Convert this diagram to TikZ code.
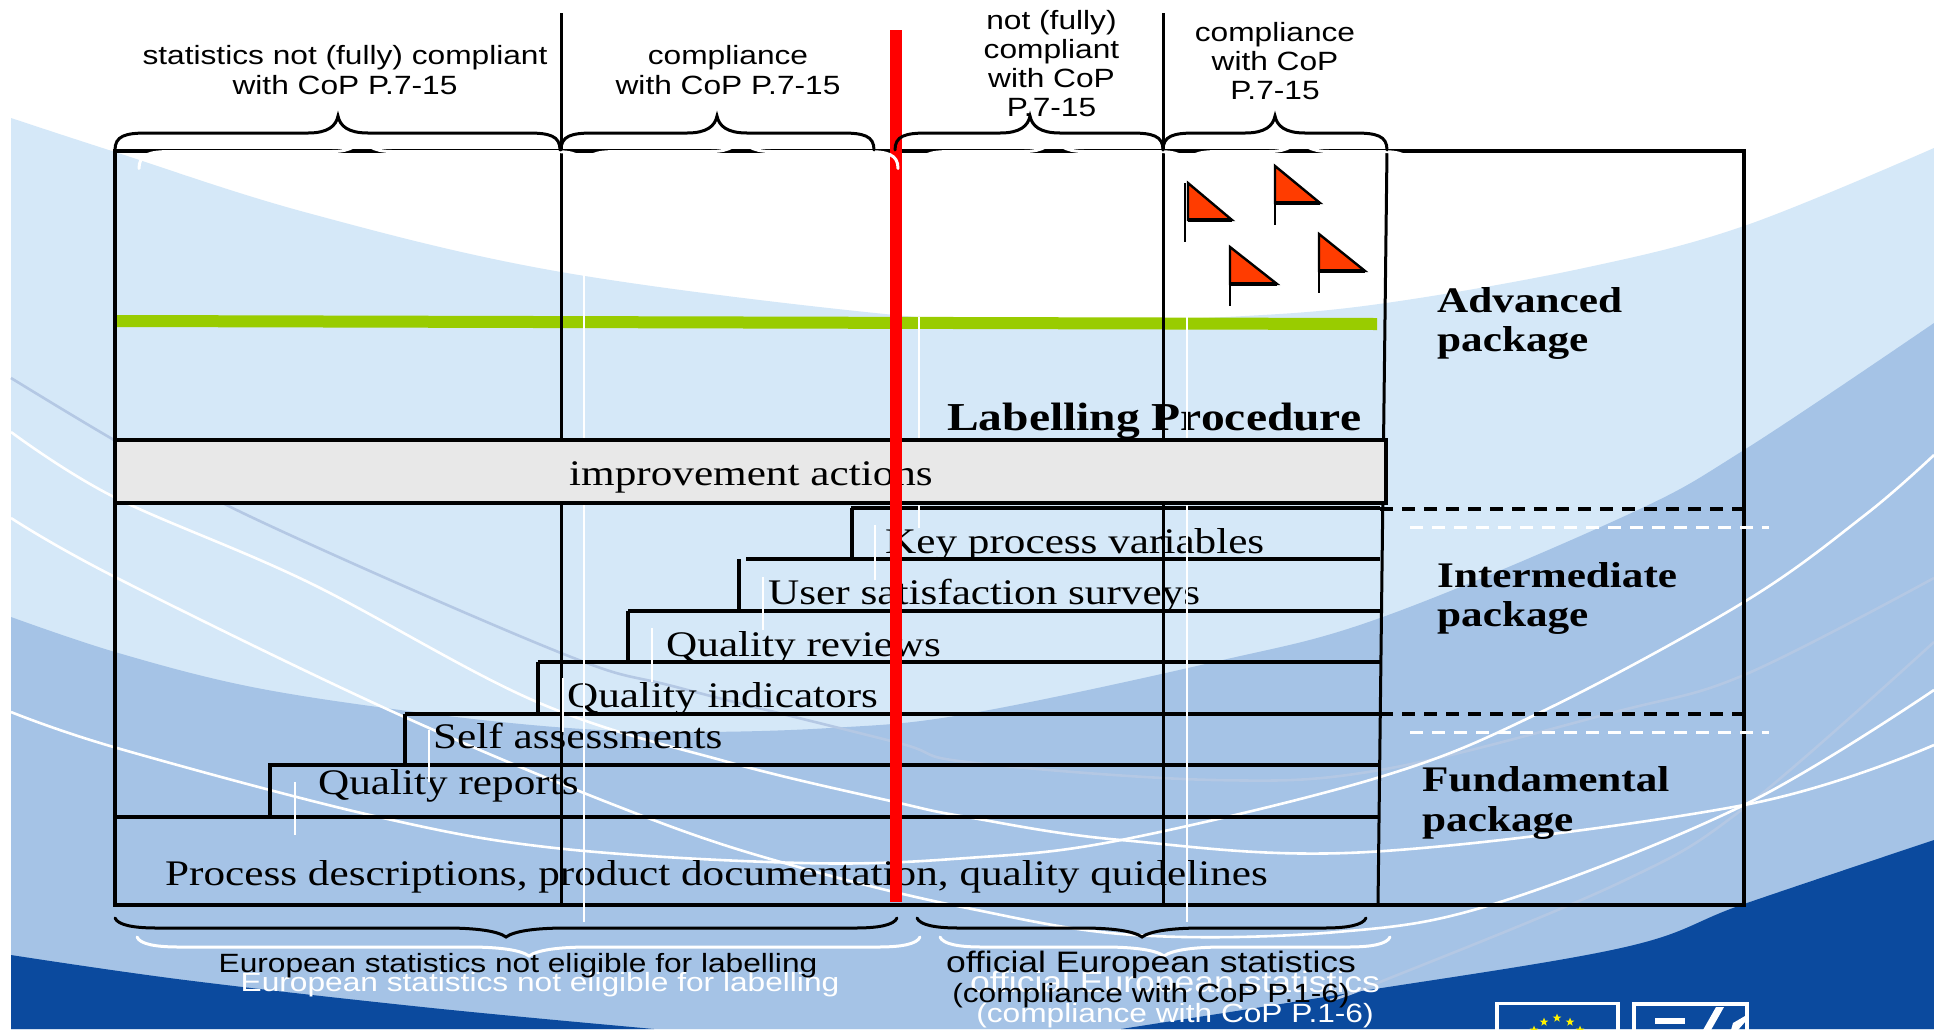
\documentclass[tikz,border=0pt]{standalone}
\usepackage{fontspec}
\usetikzlibrary{shapes.geometric}
\newfontfamily\labsans[FakeStretch=1.2]{Liberation Sans}
\newfontfamily\labserif[FakeStretch=1.2]{Liberation Serif}
\definecolor{bglight}{HTML}{D5E8F8}
\definecolor{bgmid}{HTML}{A5C3E6}
\definecolor{bgdark}{HTML}{0B4A9E}
\definecolor{faintline}{HTML}{B4C8E4}
\definecolor{barfill}{HTML}{E8E8E8}
\definecolor{greenbar}{HTML}{99CC00}
\definecolor{flagred}{HTML}{FF3C00}
\tikzset{
  sanslab/.style={anchor=base,inner sep=0pt,font=\labsans\fontsize{26.4}{29}\selectfont},
  sansbig/.style={anchor=base,inner sep=0pt,font=\labsans\fontsize{29.6}{32}\selectfont},
  seriflab/.style={anchor=base west,inner sep=0pt,font=\labserif\fontsize{36}{39}\selectfont},
  boldlab/.style={anchor=base west,inner sep=0pt,font=\labserif\bfseries\fontsize{36}{39}\selectfont},
  boldbig/.style={anchor=base west,inner sep=0pt,font=\labserif\bfseries\fontsize{39.6}{43}\selectfont},
  frameline/.style={draw=black,line width=4pt},
  thinv/.style={draw=black,line width=3pt},
  stair/.style={draw=black,line width=3.5pt},
  dashline/.style={draw=black,line width=3.5pt,dash pattern=on 13pt off 9pt},
  ghostdash/.style={draw=white,line width=3pt,dash pattern=on 13pt off 9pt},
  ghostv/.style={draw=white,line width=2.5pt},
  swoosh/.style={draw=white,line width=2.6pt},
  faint/.style={draw=faintline,line width=2.6pt},
  brace/.style={line width=3pt,line cap=round},
  flagshape/.style={draw=black,line width=2.4pt,fill=flagred,line join=miter},
  eustar/.style={star,star points=5,star point ratio=2.4,fill=yellow,inner sep=0pt,minimum size=9pt}
}
% top brace: x1,x2,tip,base y,colour
\newcommand{\topbr}[5]{%
  \draw[brace,#5] (#1,#4) .. controls (#1,#4-14) and (#1+10,#4-17) .. (#1+32,#4-17)
    -- (#3-30,#4-17) .. controls (#3-10,#4-17) and (#3-2,#4-24) .. (#3,#4-34)
    .. controls (#3+2,#4-24) and (#3+10,#4-17) .. (#3+30,#4-17)
    -- (#2-32,#4-17) .. controls (#2-10,#4-17) and (#2,#4-14) .. (#2,#4);}
% bottom brace
\newcommand{\botbr}[5]{%
  \draw[brace,#5] (#1,#4) .. controls (#1+3,#4+7) and (#1+18,#4+10) .. (#1+42,#4+10)
    -- (#3-60,#4+10) .. controls (#3-30,#4+10) and (#3-8,#4+13) .. (#3,#4+19)
    .. controls (#3+8,#4+13) and (#3+30,#4+10) .. (#3+60,#4+10)
    -- (#2-42,#4+10) .. controls (#2-18,#4+10) and (#2-3,#4+7) .. (#2,#4);}
\newcommand{\flagat}[4]{% triangle x, top y, tip x, pole x
  \draw[flagshape] (#1,#2) -- (#3,#2+37) -- (#1,#2+37) -- cycle;
  \draw[black,line width=3.6pt] (#1,#2+37) -- (#3,#2+37);
  \draw[black,line width=2.4pt] (#4,#2) -- (#4,#2+59);}
\begin{document}
\begin{tikzpicture}[x=1pt,y=-1pt]
\useasboundingbox (0,0) rectangle (1934,1029);
\fill[white] (0,0) rectangle (1934,1029);
% background swooshes
\fill[bglight] plot[smooth,tension=0.6] coordinates {(11,118) (115,152) (308,213) (561,272) (895,315) (1060,321) (1245,316) (1386,303) (1584,268) (1744,226) (1934,148)} -- (1934,1029) -- (11,1029) -- cycle;
\fill[bgmid] plot[smooth,tension=0.6] coordinates {(11,617) (115,652) (247,686) (400,710) (555,727) (680,732) (830,728) (967,714) (1214,662) (1380,618) (1627,515) (1744,450) (1934,323)} -- (1934,1029) -- (11,1029) -- cycle;
\fill[bgdark] plot[smooth,tension=0.6] coordinates {(11,955) (185,980) (432,1008) (654,1029)} -- (11,1029) -- cycle;
\fill[bgdark] plot[smooth,tension=0.6] coordinates {(1121,1029) (1337,995) (1621,948) (1744,904) (1934,840)} -- (1934,1029) -- cycle;
% thin curves
\draw[faint] plot[smooth,tension=0.6] coordinates {(11,378) (114,440) (247,515) (561,653) (680,688) (895,742) (967,762) (1214,780) (1380,770) (1615,712) (1744,675) (1934,578)};
\draw[faint] plot[smooth,tension=0.6] coordinates {(1330,1000) (1380,982) (1621,882) (1744,808) (1934,642)};
\draw[swoosh] plot[smooth,tension=0.6] coordinates {(11,432) (114,497) (308,582) (537,702) (728,762) (895,802) (967,817) (1121,840) (1368,852) (1744,805) (1934,745)};
\draw[swoosh] plot[smooth,tension=0.6] coordinates {(11,518) (117,578) (400,715) (648,818) (802,868) (967,908) (1134,935) (1337,932) (1497,903) (1744,805) (1934,690)};
\draw[swoosh] plot[smooth,tension=0.6] coordinates {(11,712) (117,748) (370,815) (555,848) (802,863) (967,858) (1121,840) (1380,777) (1541,712) (1744,602) (1865,515) (1934,455)};
% green bar
\fill[greenbar] (117,315) -- (1377,318) -- (1377,330) -- (117,327) -- cycle;
% frame
\draw[frameline] (115,150.5) rectangle (1744,905);
\draw[thinv] (561,13) -- (561,905);
\draw[thinv] (1163,13) -- (1163,905);
\draw[thinv] (1387,150) -- (1378,905);
% stairs
\draw[stair] (851,508) -- (1380,508);
\draw[stair] (852,508) -- (852,559);
\draw[stair] (746,559) -- (1380,559);
\draw[stair] (739,559) -- (739,611);
\draw[stair] (628,611) -- (1380,611);
\draw[stair] (628,611) -- (628,662);
\draw[stair] (538,662) -- (1380,662);
\draw[stair] (538,662) -- (538,714);
\draw[stair] (405,714) -- (1380,714);
\draw[stair] (405,714) -- (405,765);
\draw[stair] (268,765) -- (1380,765);
\draw[stair] (270,765) -- (270,817);
\draw[stair] (115,817) -- (1379,817);
\draw[dashline] (1380,509) -- (1744,509);
\draw[dashline] (1380,714) -- (1744,714);
% flags
\flagat{1188}{183}{1232}{1185}
\flagat{1275}{166}{1320}{1275}
\flagat{1230}{247}{1277}{1230}
\flagat{1319}{234}{1365}{1319}
% stair texts
\node[seriflab] (t1) at (165,885.5) {Process descriptions, product documentation, quality quidelines};
\node[seriflab] (t2) at (318,794.5) {Quality reports};
\node[seriflab] (t3) at (433,748.5) {Self assessments};
\node[seriflab] (t4) at (567,707.5) {Quality indicators};
\node[seriflab] (t5) at (666,656.5) {Quality reviews};
\node[seriflab] (t6) at (768,604.5) {User satisfaction surveys};
\node[seriflab] (t7) at (885,553.5) {Key process variables};
\node[boldbig] (l0) at (947,430.5) {Labelling Procedure};
\node[boldlab] (l1) at (1437,312.5) {Advanced};
\node[boldlab] (l2) at (1437,351.5) {package};
\node[boldlab] (l3) at (1437,587.5) {Intermediate};
\node[boldlab] (l4) at (1437,626.5) {package};
\node[boldlab] (l5) at (1422,791.5) {Fundamental};
\node[boldlab] (l6) at (1422,831.5) {package};
% white ghost verticals
\draw[ghostv] (584,275) -- (584,922);
\draw[ghostv] (1187,317) -- (1187,922);
\draw[ghostv] (919,317) -- (919,528);
\draw[ghostv] (875,525) -- (875,580);
\draw[ghostv] (763,577) -- (763,630);
\draw[ghostv] (652,628) -- (652,682);
\draw[ghostv] (563,678) -- (563,732);
\draw[ghostv] (429,730) -- (429,782);
\draw[ghostv] (295,782) -- (295,835);
\draw[ghostdash] (1410,527) -- (1769,527);
\draw[ghostdash] (1410,732) -- (1769,732);
% improvement bar
\node[draw=black,line width=3.5pt,fill=barfill,minimum width=1271pt,minimum height=63pt,inner sep=0pt,outer sep=0pt,anchor=north west] (bar) at (115,440) {};
\node[seriflab] (t8) at (569,485.5) {improvement actions};
% red line
\fill[red] (890,30) rectangle (902,902);
% ghost braces
\topbr{139}{584}{362}{168.5}{white}
\topbr{585}{898}{741}{168.5}{white}
\topbr{919}{1187}{1054}{168.5}{white}
\topbr{1187}{1411}{1299}{168.5}{white}
\botbr{137}{920}{529}{937}{white}
\botbr{940}{1390}{1164}{937}{white}
% black braces
\topbr{115}{560}{338}{150}{black}
\topbr{561}{874}{717}{150}{black}
\topbr{895}{1163}{1030}{150}{black}
\topbr{1163}{1387}{1275}{150}{black}
\botbr{115}{897}{506}{918}{black}
\botbr{917}{1366}{1142}{918}{black}
% top labels
\node[sanslab] (a1) at (345,64) {statistics not (fully) compliant};
\node[sanslab] (a2) at (345,94) {with CoP P.7-15};
\node[sanslab] (b1) at (728,64) {compliance};
\node[sanslab] (b2) at (728,94) {with CoP P.7-15};
\node[sanslab] (c1) at (1051.5,29) {not (fully)};
\node[sanslab] (c2) at (1051.5,58) {compliant};
\node[sanslab] (c3) at (1051.5,87) {with CoP};
\node[sanslab] (c4) at (1051.5,116) {P.7-15};
\node[sanslab] (d1) at (1275,41) {compliance};
\node[sanslab] (d2) at (1275,70) {with CoP};
\node[sanslab] (d3) at (1275,99) {P.7-15};
% bottom labels
\node[sanslab,text=white] (e1w) at (540,991) {European statistics not eligible for labelling};
\node[sansbig,text=white] (e2w) at (1175,992) {official European statistics};
\node[sanslab,text=white] (e3w) at (1175,1022) {(compliance with CoP P.1-6)};
\node[sanslab] (e1) at (518,972) {European statistics not eligible for labelling};
\node[sansbig] (e2) at (1151,972) {official European statistics};
\node[sanslab] (e3) at (1151,1002) {(compliance with CoP P.1-6)};
% logos
\draw[white,line width=3.5pt] (1497,1035) -- (1497,1003.5) -- (1618,1003.5) -- (1618,1035);
\node[eustar] (s1) at (1544,1022) {};
\node[eustar] (s2) at (1557,1018) {};
\node[eustar] (s3) at (1570,1022) {};
\node[eustar] (s4) at (1534,1030) {};
\node[eustar] (s5) at (1580,1030) {};
\draw[white,line width=4.5pt] (1634,1035) -- (1634,1004) -- (1747,1004) -- (1747,1035);
\fill[white] (1655,1018) rectangle (1685,1024);
\fill[white] (1716,1007) -- (1724,1007) -- (1711,1030) -- (1703,1030) -- cycle;
\fill[white] (1733,1023) -- (1745,1016) -- (1745,1022) -- (1738,1030) -- (1731,1030) -- cycle;
\end{tikzpicture}
\end{document}
